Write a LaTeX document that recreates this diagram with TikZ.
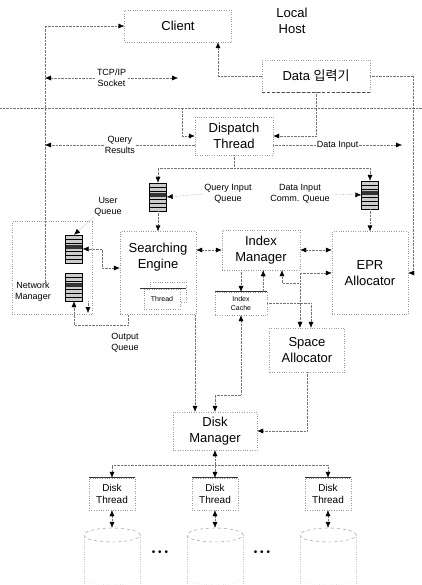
\documentclass[tikz,border=0pt]{standalone}
\usepackage{fontspec}
\setmainfont{Liberation Sans}
\newfontfamily\kr{Noto Sans CJK KR}
\usetikzlibrary{arrows.meta,positioning,shapes.geometric}
\tikzstyle{box} = [rectangle, draw=black!40, dotted, inner sep=1pt]
\tikzstyle{mainlbl} = [font=\fontsize{13}{15.5}\selectfont, align=center]
\tikzstyle{lbl} = [font=\fontsize{9}{11}\selectfont, align=center, inner sep=1pt]
\tikzstyle{tinylbl} = [font=\fontsize{7}{8.5}\selectfont, align=center, inner sep=1pt]
\tikzstyle{dtl} = [font=\fontsize{10}{11.5}\selectfont, align=center]
\tikzstyle{line} = [draw=black!55, densely dotted]
\tikzstyle{faint} = [draw=black!22, dotted]
\tikzstyle{arr} = [line, -{Latex[length=6pt,width=5pt,color=black]}]
\tikzstyle{darr} = [line, {Latex[length=6pt,width=5pt,color=black]}-{Latex[length=6pt,width=5pt,color=black]}]
\tikzstyle{bar} = [draw=black!80, line width=1pt]
\tikzstyle{queue} = [rectangle, draw, fill=black!20, minimum width=17pt, minimum height=28pt, inner sep=0pt,
    path picture={
      \foreach \k in {4,8,...,24}
        \draw[black, line width=0.5pt] ([yshift=-\k pt]path picture bounding box.north west) -- ([yshift=-\k pt]path picture bounding box.north east);
      \fill[black!80] ([yshift=-10pt]path picture bounding box.north west) rectangle ([yshift=-14pt]path picture bounding box.north east);
    }]
\tikzstyle{disk} = [ellipse, draw=black!45, dashed, minimum width=56pt, minimum height=14pt, inner sep=0pt]

\begin{document}
\begin{tikzpicture}[x=1pt,y=-1pt]
    \fill[white] (0,0) rectangle (422,585);
    \useasboundingbox (0,0) rectangle (422,585);
    % Local host
    \node[box, mainlbl, minimum width=107pt, minimum height=32pt] (client) at (178,26) {Client};
    \node[mainlbl] (localhost) at (292,21) {Local\\Host};
    \node[box, mainlbl, minimum width=108pt, minimum height=32pt] (dinput) at (316,76) {Data {\kr 입력기}};
    \coordinate (sockL) at (45,78);
    \coordinate (sockR) at (178,78);
    \coordinate (rtop) at (413,76);
    \coordinate (sepin) at (182,108);
    \coordinate (qr) at (45,145);
    \coordinate (diend) at (402,145);
    \coordinate (nmrail) at (45,285);
    % Server side
    \node[box, mainlbl, minimum width=78pt, minimum height=38pt] (dispatch) at (234,136) {Dispatch\\Thread};
    \node[queue] (qq) at (158,197) {};
    \node[lbl] (qqlbl) at (228,194) {Query Input\\Queue};
    \node[queue] (dq) at (370,195) {};
    \node[lbl] (dqlbl) at (300,194) {Data Input\\Comm. Queue};
    \coordinate (fork) at (234,168);
    % Network manager
    \node[box, minimum width=80pt, minimum height=93pt] (nmgr) at (52,268) {};
    \node[queue] (uq) at (74,249) {};
    \node[queue] (oq) at (74,287) {};
    \node[lbl] (nmlbl) at (33,292) {Network\\Manager};
    \node[lbl] (uqlbl) at (108,207) {User\\Queue};
    \node[lbl] (oqlbl) at (125,343) {Output\\Queue};
    \coordinate (jD) at (102,268);
    \coordinate (jE) at (100,325);
    \coordinate (nmout) at (88,313);
    % Engines and managers
    \node[box, minimum width=76pt, minimum height=83pt] (se) at (158,273) {};
    \node[mainlbl] (setxt) at (158,257) {Searching\\Engine};
    \node[box, minimum width=36pt, minimum height=20pt] (thrb) at (168,292) {};
    \node[box, tinylbl, fill=white, minimum width=36pt, minimum height=20pt] (thr) at (162,299) {Thread};
    \node[box, mainlbl, minimum width=78pt, minimum height=40pt] (imgr) at (261,250) {Index\\Manager};
    \node[box, mainlbl, minimum width=76pt, minimum height=83pt] (epr) at (370,273) {EPR\\Allocator};
    \node[box, tinylbl, minimum width=52pt, minimum height=23pt] (icache) at (241,303.5) {Index\\Cache};
    \node[box, mainlbl, minimum width=75pt, minimum height=44pt] (space) at (307,350) {Space\\Allocator};
    \coordinate (jA) at (300,283);
    \coordinate (jH) at (241,395);
    % Disk side
    \node[box, mainlbl, minimum width=84pt, minimum height=38pt] (dm) at (215,431) {Disk\\Manager};
    \node[box, dtl, minimum width=46pt, minimum height=32pt] (dt1) at (112,494) {Disk\\Thread};
    \node[box, dtl, minimum width=46pt, minimum height=32pt] (dt2) at (215,494) {Disk\\Thread};
    \node[box, dtl, minimum width=46pt, minimum height=32pt] (dt3) at (328,494) {Disk\\Thread};
    \node[disk] (disk1) at (112,535) {};
    \node[disk] (disk2) at (215,535) {};
    \node[disk] (disk3) at (328,535) {};
    \node[font=\fontsize{10}{12}\selectfont] (dots1) at (160,553) {• • •};
    \node[font=\fontsize{10}{12}\selectfont] (dots2) at (262,553) {• • •};
    \coordinate (jF) at (215,465);
    % Host boundary
    \draw[line] (0,108) -- (422,108);
    % Client links
    \draw[arr] (sockL) |- (client.west);
    \draw[darr] (sockL) -- node[lbl, fill=white] (socklbl) {TCP/IP\\Socket} (sockR);
    \draw[arr] (dinput.west) -| ([xshift=40pt]client.south);
    \draw[black!70, densely dashed, line width=0.8pt] (dinput.south west) -- (dinput.south east);
    \draw[line] (sockL) -- (nmrail);
    \draw[line] (dinput.east) -- (rtop);
    \draw[arr] (rtop) |- (epr.east);
    % Dispatch links
    \draw[arr] (sepin) |- (dispatch.west);
    \draw[arr] ([yshift=-9pt]dispatch.west) -- node[lbl, fill=white] (qrlbl) {Query\\Results} (qr);
    \draw[arr] (dinput.south) |- (dispatch.east);
    \draw[arr] ([yshift=-9pt]dispatch.east) -- node[lbl, fill=white] (dilbl) {Data Input} (diend);
    \draw[arr] (dispatch.south) -- (fork) -| (qq.north);
    \draw[arr] (fork) -| (dq.north);
    \draw[arr] (qqlbl.west) -- (qq.east);
    \draw[arr] (dqlbl.east) -- (dq.west);
    \draw[arr] (qq.south) -- (se.north);
    \draw[arr] (dq.south) -- (epr.north);
    % Network manager links
    \draw[arr] (uqlbl.south west) -- (uq.north);
    \draw[darr] (uq.east) -| (jD) -- (jD -| se.west);
    \draw[arr] ([xshift=8pt]se.south west) |- (jE) -| (oq.south);
    \draw[arr] (oq.south east -| nmout) -- (nmout);
    % Index links
    \draw[bar] ([xshift=-4pt]thr.north west) -- ([xshift=6pt]thr.north east);
    \draw[bar] (icache.north west) -- (icache.north east);
    \draw[darr] (se.east |- imgr) -- (imgr.west);
    \draw[darr] (imgr.east) -- (epr.west |- imgr);
    \draw[arr] (imgr.south -| icache.north) -- (icache.north);
    \draw[arr] ([xshift=-4pt]icache.north east) -- ([xshift=-4pt]icache.north east |- imgr.south);
    \draw[arr] (jA) -| ([xshift=21pt]imgr.south);
    \draw[arr] (jA) |- (epr.west);
    \draw[arr] (jA) -- (jA |- space.north);
    \draw[arr] (icache.east) -| ([xshift=4pt]space.north);
    % Disk manager links
    \draw[arr] ([xshift=-20pt]dm.north |- se.south) -- ([xshift=-20pt]dm.north);
    \draw[darr] (icache.south) -- (jH) -| (dm.north);
    \draw[arr] (space.south) |- (dm.east);
    \draw[darr] (dm.south) -- (dt2.north);
    \draw[arr] (jF) -| (dt1.north);
    \draw[arr] (jF) -| (dt3.north);
    \draw[bar] (dt1.north west) -- (dt1.north east);
    \draw[bar] (dt2.north west) -- (dt2.north east);
    \draw[bar] (dt3.north west) -- (dt3.north east);
    \draw[darr] (dt1.south) -- (disk1.north);
    \draw[darr] (dt2.south) -- (disk2.north);
    \draw[darr] (dt3.south) -- (disk3.north);
    % Disk bodies
    \draw[faint] (disk1.west) -- ++(0,50);
    \draw[faint] (disk1.east) -- ++(0,50);
    \draw[faint] (disk2.west) -- ++(0,50);
    \draw[faint] (disk2.east) -- ++(0,50);
    \draw[faint] (disk3.west) -- ++(0,50);
    \draw[faint] (disk3.east) -- ++(0,50);
    \draw[faint] ([yshift=-43pt]disk1.west) arc[start angle=180, end angle=360, x radius=28pt, y radius=7pt];
    \draw[faint] ([yshift=-43pt]disk2.west) arc[start angle=180, end angle=360, x radius=28pt, y radius=7pt];
    \draw[faint] ([yshift=-43pt]disk3.west) arc[start angle=180, end angle=360, x radius=28pt, y radius=7pt];
\end{tikzpicture}
\end{document}
